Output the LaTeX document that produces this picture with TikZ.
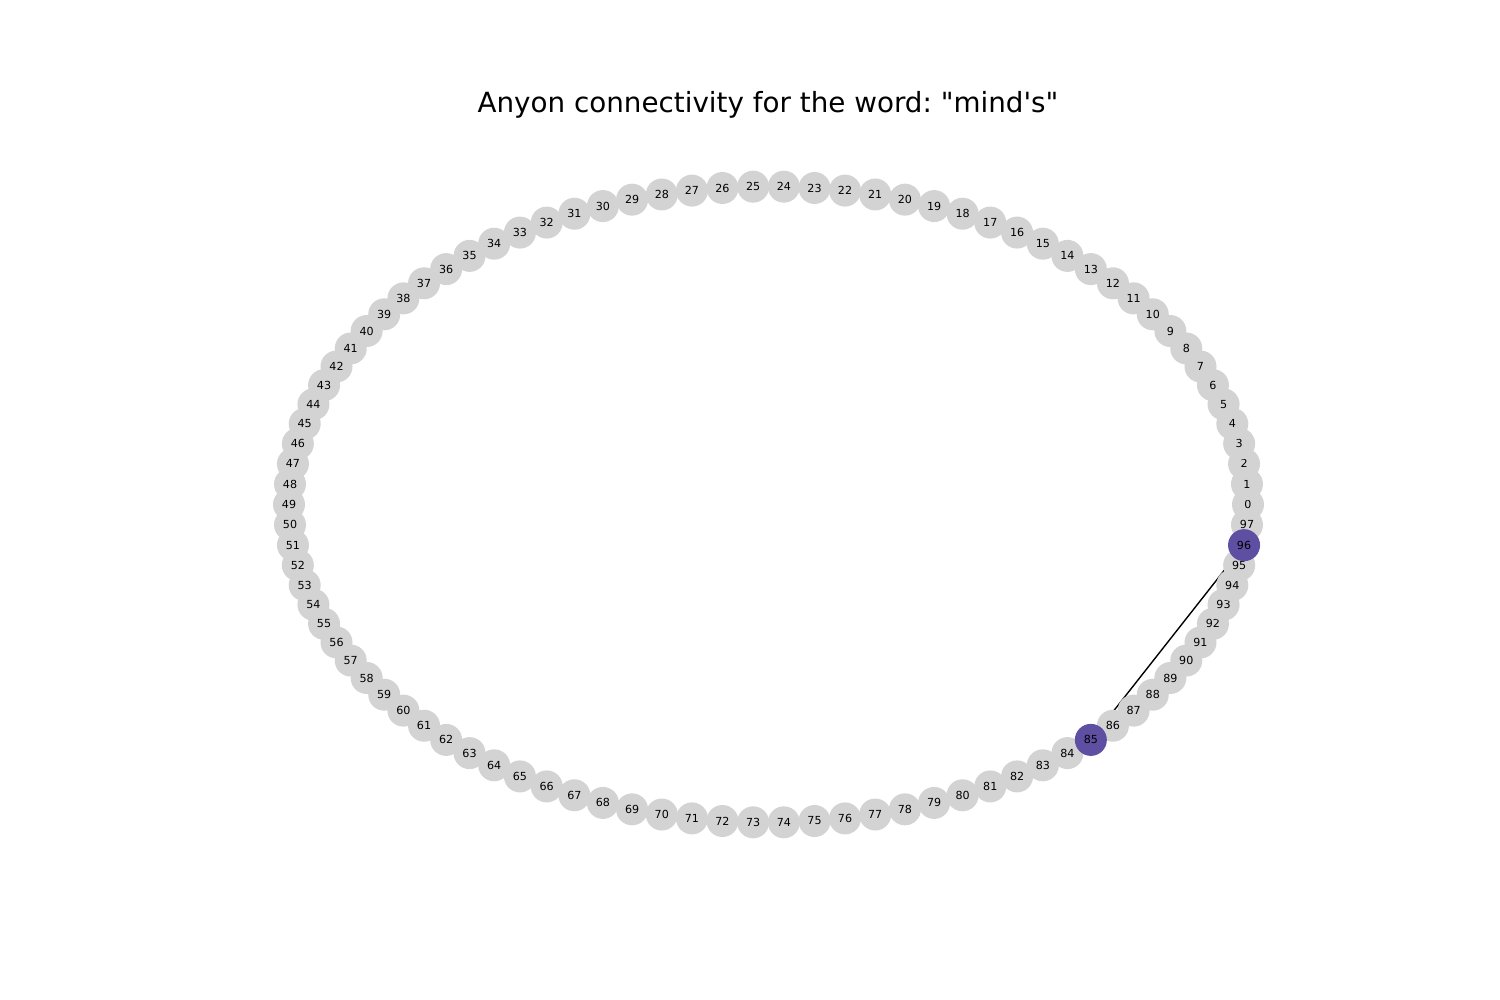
\documentclass[tikz,border=0pt]{standalone}
\usepackage{fontspec}
\newfontfamily\plotfont{DejaVu Sans}
\usetikzlibrary{backgrounds}
\definecolor{anyongray}{RGB}{211,211,211}
\definecolor{anyonpurple}{RGB}{94,79,162}
\frenchspacing

\begin{document}
\begin{tikzpicture}[x=0.72pt, y=-0.72pt,
	anyon/.style={circle, fill=anyongray, minimum size=23.04pt, inner sep=0pt, font=\plotfont\fontsize{8}{9}\selectfont},
	picked/.style={anyon, fill=anyonpurple},
	link/.style={draw=black, line width=1pt}]

\useasboundingbox (0,0) rectangle (1500,1000);

\def \n {98}
\def \cx {768.5}
\def \cy {504.5}
\def \rx {479.5}
\def \ry {318} % half axes of the ring, in pixels

\node[font=\plotfont\fontsize{20}{24}\selectfont, anchor=base] (title) at (768,113) {Anyon connectivity for the word: "mind's"};

\foreach \s in {0,...,97}
{
	\ifnum\s=85 \else\ifnum\s=96 \else
	\node[anyon] (n\s) at ({\cx+\rx*cos(360/\n*\s)},{\cy-\ry*sin(360/\n*\s)}) {\s};
	\fi\fi
}
\foreach \s in {85,96}
{
	\node[picked] (n\s) at ({\cx+\rx*cos(360/\n*\s)},{\cy-\ry*sin(360/\n*\s)}) {\s};
}

\begin{scope}[on background layer]
	\draw[link] (n96.center) -- (n85.center);
\end{scope}
\end{tikzpicture}
\end{document}
